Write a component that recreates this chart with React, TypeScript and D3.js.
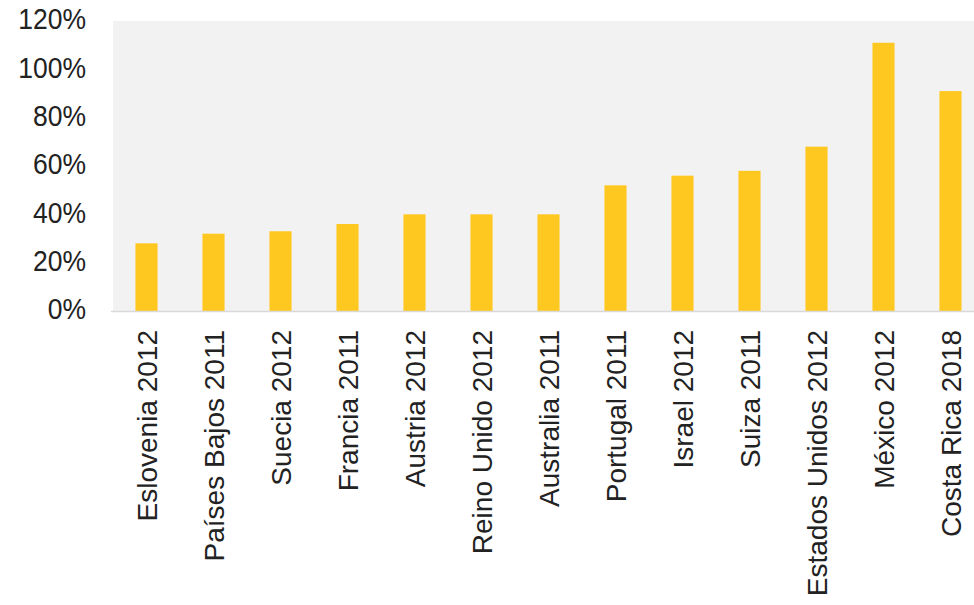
import React from "react";
import * as d3 from "d3";

const categories = [
  "Eslovenia 2012",
  "Países Bajos 2011",
  "Suecia 2012",
  "Francia 2011",
  "Austria 2012",
  "Reino Unido 2012",
  "Australia 2011",
  "Portugal 2011",
  "Israel 2012",
  "Suiza 2011",
  "Estados Unidos 2012",
  "México 2012",
  "Costa Rica 2018",
];
const values = [28, 32, 33, 36, 40, 40, 40, 52, 56, 58, 68, 111, 91];
const yTicks = [0, 20, 40, 60, 80, 100, 120];

const width = 974;
const height = 605;
const margin = { top: 21, left: 113, bottom: 294 };
const plotW = 871;

const App: React.FC = () => {
  const x = d3
    .scaleBand<string>()
    .domain(categories)
    .range([margin.left, margin.left + plotW])
    .paddingInner(0.67)
    .paddingOuter(0.335);
  const y = d3
    .scaleLinear()
    .domain([0, 120])
    .range([height - margin.bottom, margin.top]);

  return (
    <svg
      width={width}
      height={height}
      style={{ position: "absolute", left: 0, top: 0, fontFamily: "'Liberation Sans', Arial, sans-serif" }}
    >
      <rect x={0} y={0} width={width} height={height} fill="#fff" />
      <rect
        x={margin.left}
        y={y(120)}
        width={plotW}
        height={y(0) - y(120)}
        fill="#f2f2f2"
      />
      {categories.map((c, i) => (
        <rect
          key={c}
          x={x(c)}
          y={y(values[i])}
          width={x.bandwidth()}
          height={y(0) - y(values[i])}
          fill="#ffc820"
        />
      ))}
      <line
        x1={margin.left - 2}
        x2={margin.left + plotW}
        y1={y(0) + 0.5}
        y2={y(0) + 0.5}
        stroke="#d9d9d9"
        strokeWidth={1.5}
      />
      {yTicks.map((t) => (
        <text
          key={t}
          transform={`translate(86,${y(t) - 2}) scale(1,1.08)`}
          dy="0.36em"
          textAnchor="end"
          fontSize={26.5}
          fill="#222"
        >
          {t}%
        </text>
      ))}
      {categories.map((c) => {
        const cx = (x(c) ?? 0) + x.bandwidth() / 2;
        return (
          <text
            key={c}
            transform={`translate(${cx},330) rotate(-90)`}
            textAnchor="end"
            dy="0.36em"
            fontSize={28}
            fill="#222"
          >
            {c}
          </text>
        );
      })}
    </svg>
  );
};

export default App;
